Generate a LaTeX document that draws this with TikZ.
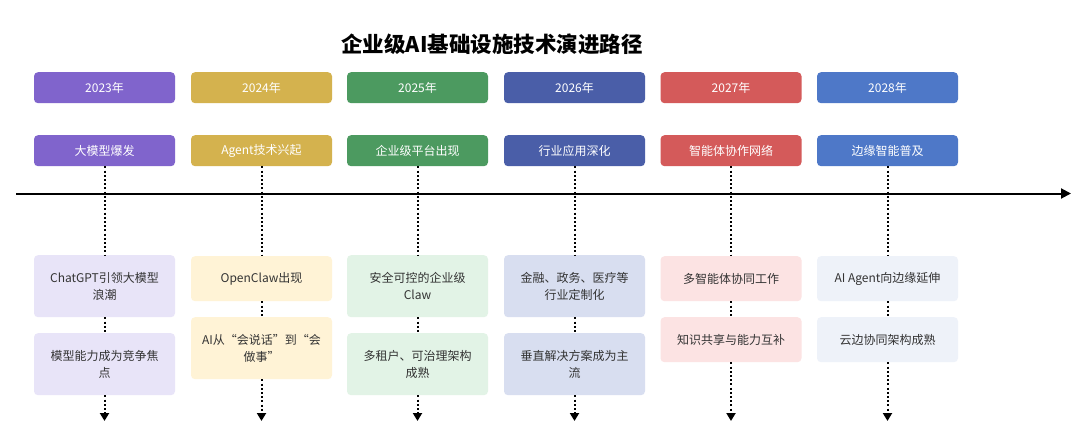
\documentclass[tikz,border=0pt]{standalone}
\usepackage{fontspec}
\setmainfont{Noto Sans CJK SC}
\newfontfamily\cjk{Noto Sans CJK SC}
\usetikzlibrary{arrows.meta}
\definecolor{cA}{HTML}{8064CC}\definecolor{lA}{HTML}{E8E4F8}
\definecolor{cB}{HTML}{D4B24E}\definecolor{lB}{HTML}{FFF3D6}
\definecolor{cC}{HTML}{4C9A60}\definecolor{lC}{HTML}{E2F3E6}
\definecolor{cD}{HTML}{4A5EA8}\definecolor{lD}{HTML}{D8DEF0}
\definecolor{cE}{HTML}{D45A5A}\definecolor{lE}{HTML}{FCE3E3}
\definecolor{cF}{HTML}{4E78C8}\definecolor{lF}{HTML}{EEF2F9}
\definecolor{txt}{HTML}{333333}
\tikzset{
  yearbox/.style={fill=#1, rounded corners=4pt, minimum width=141pt, minimum height=31pt,
    inner sep=0pt, text=white, font=\cjk\fontsize{12}{14}\selectfont, anchor=north},
  card/.style={fill=#1, rounded corners=4pt, minimum width=141pt, inner sep=0pt,
    text=txt, align=center, font=\cjk\fontsize{12}{17}\selectfont, anchor=north},
  tall/.style={minimum height=62pt},
  short/.style={minimum height=45pt},
  dotline/.style={line width=2pt, dash pattern=on 2pt off 2.2pt},
  dotarrow/.style={dotline, -{Triangle[length=8pt,width=9pt]}},
}
\begin{document}
\begin{tikzpicture}[x=1pt,y=-1pt]
\useasboundingbox[fill=white] (0,0) rectangle (1080,439);
\node[font=\cjk\bfseries\fontsize{21.5}{24}\selectfont, text=black] (title) at (492,44) {企业级AI基础设施技术演进路径};
% axis
\coordinate (axL) at (16,193.5);
\coordinate (axR) at (1071,193.5);
\draw[line width=2pt, -{Triangle[length=10pt,width=10pt]}] (axL) -- (axR);
% column 1
\node[yearbox=cA] (y1) at (104.5,72) {2023年};
\node[yearbox=cA] (p1) at (104.5,135) {大模型爆发};
\node[card=lA, tall] (a1) at (104.5,255) {ChatGPT引领大模型\\浪潮};
\node[card=lA, tall] (b1) at (104.5,333) {模型能力成为竞争焦\\点};
\coordinate (e1) at (104.5,421);
% column 2
\node[yearbox=cB] (y2) at (261.5,72) {2024年};
\node[yearbox=cB] (p2) at (261.5,135) {Agent技术兴起};
\node[card=lB, short] (a2) at (261.5,256) {OpenClaw出现};
\node[card=lB, tall] (b2) at (261.5,317) {AI从“会说话”到“会\\做事”};
\coordinate (e2) at (261.5,421);
% column 3
\node[yearbox=cC] (y3) at (417.5,72) {2025年};
\node[yearbox=cC] (p3) at (417.5,135) {企业级平台出现};
\node[card=lC, tall] (a3) at (417.5,255) {安全可控的企业级\\Claw};
\node[card=lC, tall] (b3) at (417.5,333) {多租户、可治理架构\\成熟};
\coordinate (e3) at (417.5,421);
% column 4
\node[yearbox=cD] (y4) at (574.5,72) {2026年};
\node[yearbox=cD] (p4) at (574.5,135) {行业应用深化};
\node[card=lD, tall] (a4) at (574.5,255) {金融、政务、医疗等\\行业定制化};
\node[card=lD, tall] (b4) at (574.5,333) {垂直解决方案成为主\\流};
\coordinate (e4) at (574.5,421);
% column 5
\node[yearbox=cE] (y5) at (731,72) {2027年};
\node[yearbox=cE] (p5) at (731,135) {智能体协作网络};
\node[card=lE, short] (a5) at (731,256) {多智能体协同工作};
\node[card=lE, short] (b5) at (731,317) {知识共享与能力互补};
\coordinate (e5) at (731,421);
% column 6
\node[yearbox=cF] (y6) at (887.5,72) {2028年};
\node[yearbox=cF] (p6) at (887.5,135) {边缘智能普及};
\node[card=lF, short] (a6) at (887.5,256) {AI Agent向边缘延伸};
\node[card=lF, short] (b6) at (887.5,317) {云边协同架构成熟};
\coordinate (e6) at (887.5,421);
% connectors
\foreach \i in {1,...,6}{
  \draw[dotline] (p\i.south) -- (a\i.north);
  \draw[dotline] (a\i.south) -- (b\i.north);
  \draw[dotarrow] (b\i.south) -- (e\i);
}
\end{tikzpicture}
\end{document}
